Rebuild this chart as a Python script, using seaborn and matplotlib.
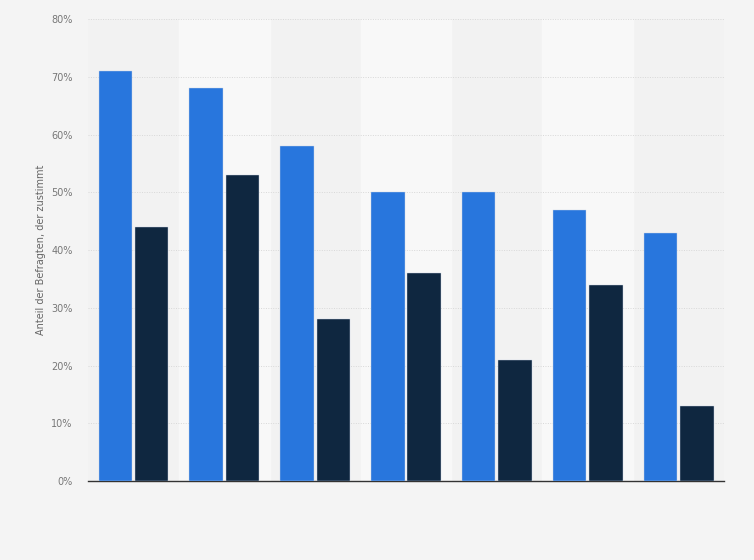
import matplotlib.pyplot as plt
import numpy as np
import pandas as pd
import seaborn as sns

# Daten
kategorien = ['1', '2', '3', '4', '5', '6', '7']
serie_a = [71, 68, 58, 50, 50, 47, 43]
serie_b = [44, 53, 28, 36, 21, 34, 13]
serien = ['Serie A', 'Serie B']

df = pd.DataFrame({
    'kategorie': kategorien * 2,
    'wert': serie_a + serie_b,
    'serie': [serien[0]] * len(kategorien) + [serien[1]] * len(kategorien),
})

sns.set_style('white')
plt.rcParams['font.family'] = ['DejaVu Sans']

fig = plt.figure(figsize=(7.54, 5.6), dpi=100, facecolor='#f4f4f4')
ax = fig.add_axes([0.1167, 0.141, 0.8436, 0.825])
ax.set_facecolor('#f2f2f2')

# abwechselnde Hintergrundstreifen
for i in range(len(kategorien)):
    if i % 2 == 1:
        ax.axvspan(i - 0.5, i + 0.5, color='#f8f8f8', zorder=0)

sns.barplot(data=df, x='kategorie', y='wert', hue='serie',
            palette=['#2876dd', '#0f2740'], saturation=1, width=0.8, gap=0.08,
            edgecolor='#c8d4e4', linewidth=0.3, legend=False, ax=ax, zorder=3)

ax.set_xlim(-0.5, len(kategorien) - 0.5)
ax.set_ylim(0, 80)
ax.set_yticks(np.arange(0, 81, 10))
ax.set_yticklabels([f'{v}%' for v in range(0, 81, 10)], fontsize=7, color='#777777')
ax.set_xticks([])
ax.set_xlabel('')
ax.set_ylabel('Anteil der Befragten, der zustimmt', fontsize=7, color='#666666', labelpad=4)
ax.tick_params(axis='y', length=0, pad=11)
ax.grid(axis='y', color='#d8d8d8', linestyle=(0, (1, 1.5)), linewidth=0.7, zorder=1)
ax.set_axisbelow(True)
for s in ['top', 'right', 'left']:
    ax.spines[s].set_visible(False)
ax.spines['bottom'].set_color('#333333')
ax.spines['bottom'].set_linewidth(1)

fig.savefig('out.png', dpi=100, facecolor=fig.get_facecolor())
